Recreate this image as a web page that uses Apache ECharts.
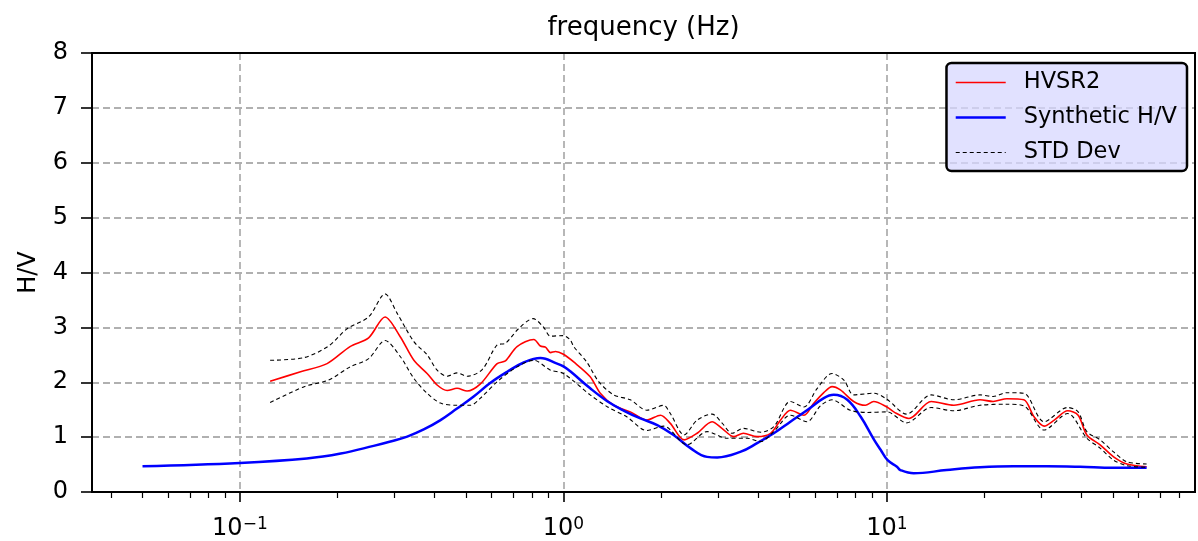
<!DOCTYPE html>
<html>
<head>
<meta charset="utf-8">
<title>HVSR</title>
<script src="https://cdn.jsdelivr.net/npm/echarts@6/dist/echarts.min.js"></script>
<style>
* { margin:0; padding:0; }
body { background:#fff; }
#chart { width:1198px; height:541px; }
</style>
</head>
<body>
<div id="chart"></div>
<script>
// measured HVSR curve
var hvFreq = [0.124, 0.154, 0.186, 0.219, 0.25, 0.281, 0.313, 0.345, 0.379, 0.407, 0.437, 0.469, 0.504, 0.554, 0.624, 0.662, 0.719, 0.81, 0.849, 0.88, 0.912, 0.945, 1.0, 1.076, 1.21, 1.3, 1.43, 1.61, 1.81, 1.995, 2.14, 2.36, 2.59, 2.88, 3.09, 3.36, 3.6, 3.97, 4.37, 4.69, 5.03, 5.54, 5.95, 6.38, 6.77, 7.18, 7.89, 8.58, 9.1, 10.0, 10.5, 11.7, 13.7, 16.1, 19.4, 21.3, 23.5, 26.5, 28.5, 30.6, 32.9, 36.2, 39.0, 41.5, 45.6, 50.2, 55.2, 63.5];
var hvVal = [2.02, 2.19, 2.34, 2.65, 2.81, 3.19, 2.83, 2.40, 2.16, 1.95, 1.85, 1.89, 1.84, 1.97, 2.34, 2.39, 2.65, 2.78, 2.66, 2.64, 2.54, 2.56, 2.51, 2.37, 2.10, 1.80, 1.58, 1.46, 1.31, 1.40, 1.25, 0.95, 1.07, 1.28, 1.16, 1.01, 1.07, 1.01, 1.07, 1.31, 1.49, 1.40, 1.62, 1.81, 1.92, 1.86, 1.65, 1.58, 1.65, 1.55, 1.46, 1.34, 1.65, 1.58, 1.68, 1.65, 1.70, 1.68, 1.37, 1.20, 1.31, 1.48, 1.40, 1.04, 0.86, 0.64, 0.51, 0.46];

// std dev upper / lower
var hiFreq = [0.124, 0.158, 0.188, 0.215, 0.25, 0.281, 0.306, 0.345, 0.379, 0.407, 0.437, 0.469, 0.504, 0.561, 0.624, 0.662, 0.728, 0.806, 0.869, 0.912, 1.0, 1.05, 1.076, 1.18, 1.286, 1.43, 1.61, 1.81, 2.04, 2.14, 2.36, 2.59, 2.88, 3.09, 3.32, 3.6, 4.07, 4.47, 5.03, 5.54, 6.09, 6.77, 7.36, 7.89, 9.1, 10.0, 11.5, 13.7, 16.1, 19.4, 21.3, 23.5, 26.5, 30.6, 36.2, 39.0, 41.5, 45.6, 50.2, 55.2, 63.5];
var hiVal = [2.40, 2.45, 2.66, 2.98, 3.19, 3.61, 3.26, 2.74, 2.50, 2.22, 2.11, 2.17, 2.11, 2.23, 2.68, 2.71, 2.98, 3.16, 3.0, 2.84, 2.85, 2.77, 2.65, 2.37, 2.01, 1.77, 1.68, 1.49, 1.58, 1.43, 1.04, 1.31, 1.42, 1.26, 1.07, 1.16, 1.09, 1.19, 1.65, 1.55, 1.89, 2.16, 2.04, 1.77, 1.80, 1.69, 1.42, 1.77, 1.68, 1.77, 1.74, 1.81, 1.80, 1.28, 1.54, 1.46, 1.10, 0.95, 0.73, 0.55, 0.51];
var loFreq = [0.124, 0.158, 0.188, 0.219, 0.25, 0.281, 0.313, 0.345, 0.379, 0.417, 0.469, 0.516, 0.554, 0.624, 0.719, 0.81, 0.912, 1.0, 1.21, 1.37, 1.57, 1.81, 2.04, 2.41, 2.78, 3.2, 3.69, 4.07, 4.47, 5.03, 5.66, 6.23, 6.77, 7.7, 8.69, 10.0, 11.5, 13.7, 16.1, 19.4, 23.5, 26.5, 30.6, 36.2, 41.5, 45.6, 50.2, 55.2, 63.5];
var loVal = [1.63, 1.92, 2.04, 2.28, 2.43, 2.76, 2.47, 2.07, 1.80, 1.62, 1.58, 1.58, 1.71, 2.01, 2.28, 2.40, 2.22, 2.16, 1.77, 1.55, 1.37, 1.12, 1.20, 0.86, 1.10, 0.98, 0.98, 0.92, 1.10, 1.40, 1.28, 1.57, 1.68, 1.49, 1.45, 1.46, 1.26, 1.54, 1.48, 1.58, 1.60, 1.57, 1.13, 1.43, 0.98, 0.80, 0.58, 0.48, 0.45];

// synthetic H/V
var synFreq = [0.05, 0.1, 0.161, 0.205, 0.259, 0.292, 0.329, 0.37, 0.417, 0.469, 0.528, 0.595, 0.67, 0.754, 0.849, 0.956, 1.0, 1.05, 1.21, 1.37, 1.54, 1.73, 1.95, 2.19, 2.47, 2.78, 2.99, 3.52, 3.97, 4.47, 5.03, 5.66, 6.38, 6.85, 7.54, 8.3, 9.13, 9.56, 10.05, 10.74, 11.0, 12.1, 15.3, 19.4, 24.6, 31.2, 39.5, 50.1, 63.5];
var synVal = [0.47, 0.53, 0.61, 0.70, 0.84, 0.92, 1.01, 1.14, 1.31, 1.52, 1.74, 1.99, 2.19, 2.36, 2.44, 2.34, 2.29, 2.20, 1.89, 1.65, 1.48, 1.34, 1.22, 1.04, 0.80, 0.64, 0.63, 0.73, 0.89, 1.07, 1.28, 1.49, 1.71, 1.77, 1.68, 1.37, 0.95, 0.77, 0.58, 0.46, 0.40, 0.34, 0.40, 0.45, 0.47, 0.47, 0.46, 0.44, 0.44];

var legendNames = ['HVSR2', 'Synthetic H/V', 'STD Dev'];
var legendWidths = [1.5, 2.5, 1.1];
var majorTicks = [0.1, 1, 10];
var yTicks = [0, 1, 2, 3, 4, 5, 6, 7, 8];

var minorTicks = [];
for (var k = -2; k <= 1; k++) {
    for (var m = 2; m <= 9; m++) {
        var t = m * Math.pow(10, k);
        if (t > 0.0349 && t < 89.6) minorTicks.push(+t.toPrecision(3));
    }
}

function zip(xs, ys) {
    var out = [];
    for (var i = 0; i < xs.length; i++) out.push([xs[i], ys[i]]);
    return out;
}

var font = 'DejaVu Sans';
var gridLine = { color:'#b0b0b0', width:1.8, type:[7, 4] };
var legendText = { fontFamily: font, fontSize: 22.5, color:'#000', padding:[0, 0, 0, 13] };

var chart = echarts.init(document.getElementById('chart'));
var option = {
    animation: false,
    textStyle: { fontFamily: font },
    grid: { left:92, right:3, top:53, bottom:49, outerBoundsMode:'none', containLabel:false,
        show:true, borderColor:'#000', borderWidth:2, backgroundColor:'transparent', z:3 },
    legend: {
        orient: 'vertical',
        right: 11, top: 63,
        data: legendNames.map(function (n, i) { return { name: n, lineStyle: { width: legendWidths[i] } }; }),
        itemWidth: 50, itemHeight: 14, itemGap: 12,
        padding: [8, 10, 7, 8],
        backgroundColor: 'rgba(215,215,255,0.75)',
        borderColor: '#000', borderWidth: 2.5, borderRadius: 5,
        itemStyle: { color:'rgba(0,0,0,0)', borderColor:'rgba(0,0,0,0)', borderWidth:0 },
        textStyle: legendText
    },
    xAxis: [{
        type: 'log', logBase: 10, min: 0.0349, max: 89.6,
        axisLine: { show:true, lineStyle:{ color:'#000', width:2 } },
        axisTick: { show:true, length:10, customValues: majorTicks, lineStyle:{ color:'#000', width:1.6 } },
        axisLabel: {
            customValues: majorTicks, margin: 24, color:'#000',
            formatter: function (v) {
                var e = Math.round(Math.log(v) / Math.LN10);
                return '{b|10}{s|' + String(e).replace('-', '\u2212') + '}';
            },
            rich: {
                b: { fontSize:24, fontFamily:font, color:'#000', lineHeight:26 },
                s: { fontSize:17, fontFamily:font, color:'#000', verticalAlign:'top', lineHeight:17 }
            }
        },
        splitLine: { show:true, lineStyle: gridLine }
    }, {
        type: 'log', logBase: 10, min: 0.0349, max: 89.6, position: 'bottom',
        axisLine: { show:false },
        axisTick: { show:true, length:6, customValues: minorTicks, lineStyle:{ color:'#000', width:1.2 } },
        axisLabel: { show:false },
        splitLine: { show:false }
    }, {
        type: 'log', logBase: 10, min: 0.0349, max: 89.6, position: 'top',
        name: 'frequency (Hz)', nameLocation: 'middle', nameGap: 12,
        nameTextStyle: { fontSize:26, color:'#000', fontFamily:font },
        axisLine: { show:false }, axisTick: { show:false }, axisLabel: { show:false }, splitLine: { show:false }
    }],
    yAxis: {
        type: 'value', min: 0, max: 8, interval: 1,
        name: 'H/V', nameLocation: 'middle', nameGap: 51,
        nameTextStyle: { fontSize:24, color:'#000', fontFamily:font },
        axisLine: { show:true, lineStyle:{ color:'#000', width:2 } },
        axisTick: { show:true, length:11, lineStyle:{ color:'#000', width:1.6 } },
        axisLabel: { fontSize:24, color:'#000', margin:24,
            formatter: function (v) { return yTicks.indexOf(v) >= 0 ? String(v) : ''; } },
        splitLine: { show:true, showMinLine:false, showMaxLine:false, lineStyle: gridLine }
    },
    series: [{
        name: 'HVSR2', type: 'line', symbol: 'none', smooth: 0.3,
        lineStyle: { color:'#ff0000', width:1.6 }, itemStyle: { color:'#ff0000' },
        data: zip(hvFreq, hvVal)
    }, {
        name: 'Synthetic H/V', type: 'line', symbol: 'none', smooth: 0.4,
        lineStyle: { color:'#0000ff', width:2.5 }, itemStyle: { color:'#0000ff' },
        data: zip(synFreq, synVal)
    }, {
        name: 'STD Dev', type: 'line', symbol: 'none', smooth: 0.3,
        lineStyle: { color:'#000', width:1.1, type:[4, 3] }, itemStyle: { color:'#000' },
        data: zip(hiFreq, hiVal)
    }, {
        name: 'STD Dev', type: 'line', symbol: 'none', smooth: 0.3,
        lineStyle: { color:'#000', width:1.1, type:[4, 3] }, itemStyle: { color:'#000' },
        data: zip(loFreq, loVal)
    }]
};
chart.setOption(option);
</script>
</body>
</html>
